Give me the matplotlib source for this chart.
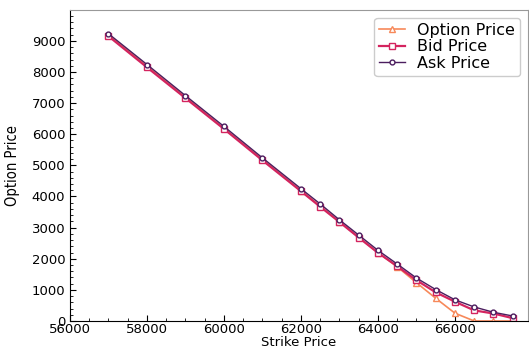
import matplotlib.pyplot as plt
from matplotlib.ticker import MultipleLocator

# Strike prices and quotes
strikes = [57000, 58000, 59000, 60000, 61000, 62000, 62500, 63000, 63500,
           64000, 64500, 65000, 65500, 66000, 66500, 67000, 67500]
option_price = [9190, 8190, 7190, 6190, 5190, 4190, 3690, 3190, 2690,
                2200, 1740, 1230, 730, 250, 0, 0, 0]
bid_price = [9150, 8150, 7160, 6170, 5160, 4170, 3670, 3180, 2680,
             2190, 1760, 1310, 920, 620, 340, 240, 90]
ask_price = [9230, 8240, 7240, 6250, 5240, 4250, 3760, 3250, 2760,
             2270, 1830, 1380, 1010, 680, 450, 280, 160]

fig = plt.figure(figsize=(5.29, 3.47), dpi=100)
ax = fig.add_axes([0.1323, 0.075, 0.866, 0.896])

ax.plot(strikes, option_price, color='#f7895a', marker='^', markersize=4,
        markerfacecolor='white', linewidth=1.2, label='Option Price')
ax.plot(strikes, bid_price, color='#d4245f', marker='s', markersize=4.5,
        markerfacecolor='white', linewidth=1.6, label='Bid Price')
ax.plot(strikes, ask_price, color='#4b1d5e', marker='o', markersize=3.5,
        markerfacecolor='white', linewidth=1.0, label='Ask Price')

ax.set_xlim(56000, 67900)
ax.set_ylim(0, 9990)
ax.xaxis.set_major_locator(MultipleLocator(2000))
ax.xaxis.set_minor_locator(MultipleLocator(500))
ax.yaxis.set_major_locator(MultipleLocator(1000))
ax.yaxis.set_minor_locator(MultipleLocator(200))
ax.tick_params(which='both', direction='in', labelsize=9.5, top=False, right=False)
ax.tick_params(which='major', length=4)
ax.tick_params(which='minor', length=2)
ax.tick_params(axis='x', pad=1.5)

for side in ['top', 'right']:
    ax.spines[side].set_color('#999999')

ax.set_xlabel('Strike Price', fontsize=9.5, labelpad=0)
ax.set_ylabel('Option Price', fontsize=10.5, family='DejaVu Sans',
              fontstretch='condensed', labelpad=8)

ax.legend(loc='upper right', fontsize=11.5, handlelength=1.6,
          borderpad=0.3, labelspacing=0.1, fancybox=True,
          edgecolor='#cccccc', framealpha=1)

fig.savefig('out.png', dpi=100)
